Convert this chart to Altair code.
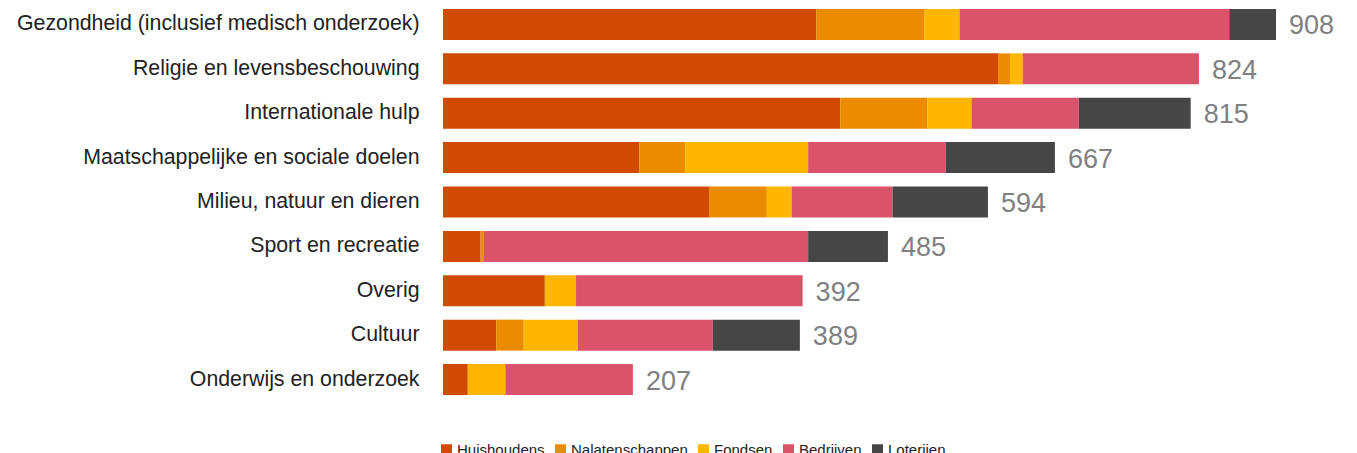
import altair as alt
import pandas as pd

categories = [
    "Gezondheid (inclusief medisch onderzoek)",
    "Religie en levensbeschouwing",
    "Internationale hulp",
    "Maatschappelijke en sociale doelen",
    "Milieu, natuur en dieren",
    "Sport en recreatie",
    "Overig",
    "Cultuur",
    "Onderwijs en onderzoek",
]
series = ["Huishoudens", "Nalatenschappen", "Fondsen", "Bedrijven", "Loterijen"]
huishoudens = [407, 605, 433, 214, 290, 41, 111, 58, 27]
nalatenschappen = [118, 13, 95, 50, 63, 3, 0, 30, 0]
fondsen = [38, 14, 48, 134, 27, 0, 34, 59, 41]
bedrijven = [294, 192, 117, 150, 110, 354, 247, 147, 139]
loterijen = [51, 0, 122, 119, 104, 87, 0, 95, 0]
totals = [908, 824, 815, 667, 594, 485, 392, 389, 207]
colors = ["#d04a02", "#eb8c00", "#ffb600", "#db536a", "#464646"]

values = [huishoudens, nalatenschappen, fondsen, bedrijven, loterijen]
rows = []
for si, (s, vals) in enumerate(zip(series, values)):
    for c, v in zip(categories, vals):
        rows.append({"categorie": c, "bron": s, "waarde": v, "volgorde": si})
df = pd.DataFrame(rows)
tot_df = pd.DataFrame({"categorie": categories, "totaal": totals})

FONT = "Liberation Sans"

y_enc = alt.Y(
    "categorie:N",
    sort=categories,
    title=None,
    scale=alt.Scale(paddingInner=0.3014, paddingOuter=0.0225),
    axis=alt.Axis(ticks=False, domain=False, labelPadding=24, labelFontSize=21.3,
                  labelFont=FONT, labelColor="#222222", labelLimit=600),
)
x_scale = alt.Scale(domain=[0, 908], nice=False, zero=True)

bars = alt.Chart(df).mark_bar().encode(
    y=y_enc,
    x=alt.X("waarde:Q", stack="zero", scale=x_scale, axis=None),
    color=alt.Color(
        "bron:N",
        sort=series,
        scale=alt.Scale(domain=series, range=colors),
        legend=alt.Legend(
            title=None, orient="none", direction="horizontal",
            legendX=-4, legendY=434, symbolType="square", symbolSize=121,
            symbolStrokeWidth=0, labelFontSize=15, labelFont=FONT, labelColor="#222222",
            columnPadding=8, labelOffset=3, padding=0,
        ),
    ),
    order=alt.Order("volgorde:Q", sort="ascending"),
)

labels = alt.Chart(tot_df).mark_text(
    align="left", baseline="middle", dx=13, dy=2, fontSize=27, font=FONT, color="#808080"
).encode(
    y=alt.Y("categorie:N", sort=categories),
    x=alt.X("totaal:Q", scale=x_scale),
    text=alt.Text("totaal:Q"),
)

chart = (
    alt.layer(bars, labels)
    .properties(
        width=833,
        height=388,
        autosize=alt.AutoSizeParams(type="none"),
        padding={"left": 435, "top": 0, "right": 70, "bottom": 60},
    )
    .configure_view(stroke=None)
)

chart.save("out.html", embed_options={"renderer": "svg", "actions": False})
